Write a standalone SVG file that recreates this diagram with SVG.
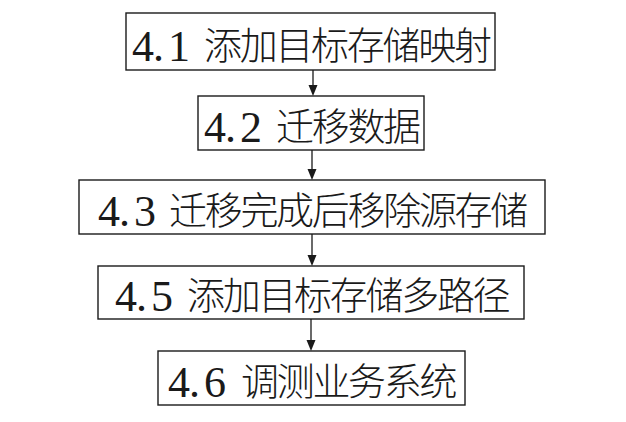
<svg xmlns="http://www.w3.org/2000/svg" width="626" height="422" viewBox="0 0 626 422">
<defs>
<style>
.box{fill:#fff;stroke:#1a1a1a;stroke-width:1.4}
.num{font-family:"Liberation Serif",serif;font-size:44px;fill:#1a1a1a}
.cjk{font-family:"Noto Sans CJK SC",sans-serif;font-size:38px;letter-spacing:-2.3px;fill:#1a1a1a;font-weight:300}
.line{stroke:#1a1a1a;stroke-width:1.3;fill:none}
.head{fill:#1a1a1a}
</style>
</defs>
<rect width="626" height="422" fill="#fff"/>
<g id="connectors">
<line class="line" x1="313" y1="70" x2="313" y2="86"/><polygon class="head" points="308.5,85 317.5,85 313,96"/>
<line class="line" x1="312" y1="150" x2="312" y2="170"/><polygon class="head" points="307.5,169 316.5,169 312,180"/>
<line class="line" x1="312" y1="234" x2="312" y2="256"/><polygon class="head" points="307.5,255 316.5,255 312,266"/>
<line class="line" x1="311" y1="319" x2="311" y2="341"/><polygon class="head" points="306.5,340 315.5,340 311,351"/>
</g>
<g id="n1">
<rect class="box" x="126" y="13" width="369" height="57"/>
<text class="num" x="132 153 168" y="61">4.1</text>
<text class="cjk" x="204" y="58.5">添加目标存储映射</text>
</g>
<g id="n2">
<rect class="box" x="198" y="96" width="226" height="54"/>
<text class="num" x="204 225 240" y="142">4.2</text>
<text class="cjk" x="276" y="139.5">迁移数据</text>
</g>
<g id="n3">
<rect class="box" x="79" y="180" width="466" height="54"/>
<text class="num" x="98 119 134" y="226">4.3</text>
<text class="cjk" x="169" y="223.5">迁移完成后移除源存储</text>
</g>
<g id="n4">
<rect class="box" x="98" y="266" width="426" height="53"/>
<text class="num" x="115 136 151" y="311">4.5</text>
<text class="cjk" x="187" y="308.5">添加目标存储多路径</text>
</g>
<g id="n5">
<rect class="box" x="158" y="351" width="307" height="54"/>
<text class="num" x="168 189 204" y="397">4.6</text>
<text class="cjk" x="241" y="394.5">调测业务系统</text>
</g>
</svg>
